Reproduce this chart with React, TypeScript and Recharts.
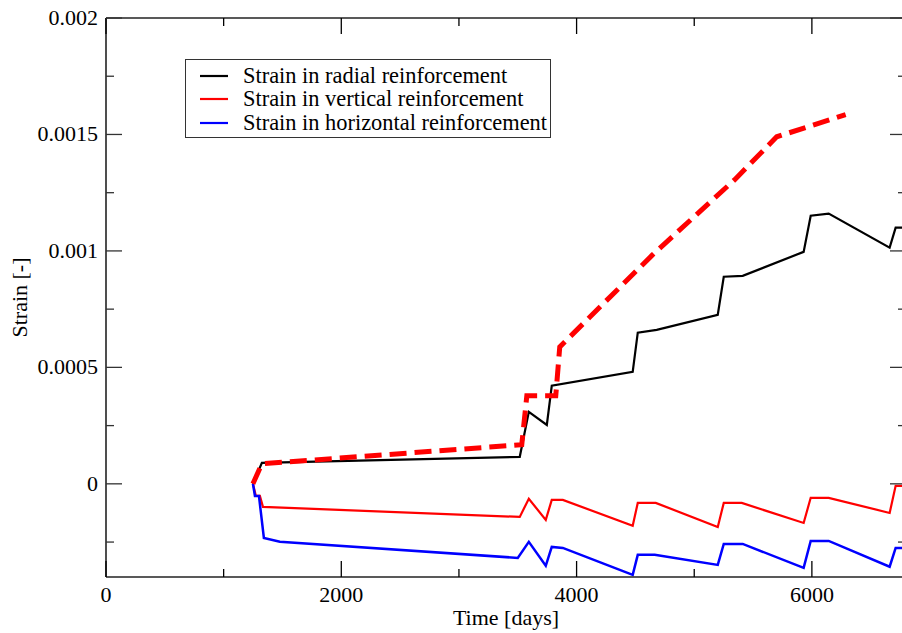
import React from 'react';
import { LineChart, Line, XAxis, YAxis, Legend } from 'recharts';

const FONT = '"Liberation Serif", "Times New Roman", serif';

const seriesNames = ['Strain in radial reinforcement', 'Strain in vertical reinforcement', 'Strain in horizontal reinforcement'];

const radialTime = [1249, 1325, 3517, 3594, 3747, 3789, 4477, 4520, 4681, 5200, 5251, 5412, 5930, 5990, 6143, 6661, 6712, 6790];
const radialStrain = [0, 0.00009, 0.000116, 0.000309, 0.000253, 0.000421, 0.000481, 0.000649, 0.000661, 0.000726, 0.000889, 0.000893, 0.000996, 0.001151, 0.00116, 0.001014, 0.0011, 0.0011];

const verticalTime = [1249, 1274, 1308, 1334, 3517, 3594, 3738, 3789, 3883, 4477, 4520, 4673, 5200, 5251, 5404, 5930, 5990, 6143, 6661, 6712, 6790];
const verticalStrain = [0, -0.000052, -0.000052, -0.000099, -0.000142, -0.000064, -0.000155, -0.000069, -0.000069, -0.00018, -0.000082, -0.000082, -0.000185, -0.000082, -0.000082, -0.000168, -0.00006, -0.00006, -0.000125, -0.0000086, -0.0000086];

const horizontalTime = [1249, 1266, 1300, 1342, 1478, 3500, 3594, 3738, 3789, 3883, 4477, 4520, 4664, 5200, 5251, 5412, 5930, 5990, 6143, 6661, 6712, 6790];
const horizontalStrain = [0, -0.000052, -0.000052, -0.000232, -0.000249, -0.000318, -0.000249, -0.000352, -0.000271, -0.000275, -0.000391, -0.000305, -0.000305, -0.000348, -0.000258, -0.000258, -0.000361, -0.000245, -0.000245, -0.000356, -0.000275, -0.000275];

const dashedTime = [1249, 1325, 3534, 3577, 3823, 3857, 4647, 5344, 5701, 6287];
const dashedStrain = [0, 0.000086, 0.000168, 0.000378, 0.000378, 0.000588, 0.000984, 0.001306, 0.00149, 0.001585];

const xTicks = [0, 1000, 2000, 3000, 4000, 5000, 6000];
const yTicks = [-0.00025, 0, 0.00025, 0.0005, 0.00075, 0.001, 0.00125, 0.0015, 0.00175, 0.002];
const xDomain = [0, 6800];
const yDomain = [-0.0004, 0.002];

const zip = (xs: number[], ys: number[]) => xs.map((t, i) => ({ t, s: ys[i] }));
const radialData = zip(radialTime, radialStrain);
const verticalData = zip(verticalTime, verticalStrain);
const horizontalData = zip(horizontalTime, horizontalStrain);
const dashedData = zip(dashedTime, dashedStrain);

const isMajorX = (v: number) => v % 2000 === 0;
const isMajorY = (v: number) => Math.abs(v * 2000 - Math.round(v * 2000)) < 1e-6;

const MAJOR = 16;
const MINOR = 8;

const BottomTick = (props: any) => {
  const { x, y, payload } = props;
  const major = isMajorX(payload.value);
  return (
    <g>
      <line x1={x} y1={y} x2={x} y2={y - (major ? MAJOR : MINOR)} stroke="#000" strokeWidth={1.3} />
      {major && (
        <text x={x} y={y + 25} textAnchor="middle" fontSize={22} fontFamily={FONT} fill="#000">
          {payload.value}
        </text>
      )}
    </g>
  );
};

const TopTick = (props: any) => {
  const { x, y, payload } = props;
  const major = isMajorX(payload.value);
  return <line x1={x} y1={y} x2={x} y2={y + (major ? MAJOR : MINOR)} stroke="#000" strokeWidth={1.3} />;
};

const LeftTick = (props: any) => {
  const { x, y, payload } = props;
  const major = isMajorY(payload.value);
  return (
    <g>
      <line x1={x} y1={y} x2={x + (major ? MAJOR : MINOR)} y2={y} stroke="#333" strokeWidth={1.3} />
      {major && (
        <text x={x - 8} y={y + 7} textAnchor="end" fontSize={22} fontFamily={FONT} fill="#000">
          {String(payload.value)}
        </text>
      )}
    </g>
  );
};

const RightTick = (props: any) => {
  const { x, y, payload } = props;
  const major = isMajorY(payload.value);
  return <line x1={x} y1={y} x2={x - (major ? MAJOR : MINOR)} y2={y} stroke="#333" strokeWidth={1.3} />;
};

const LegendBox = (props: any) => {
  const raw = (props.payload || []).filter((p: any) => p.type !== 'none');
  const items = seriesNames
    .map((n) => raw.find((p: any) => p.value === n))
    .filter(Boolean);
  return (
    <div
      style={{
        boxSizing: 'border-box',
        width: 366,
        height: 79,
        border: '1.5px solid #333',
        background: '#fff',
        paddingTop: 4,
        paddingLeft: 14,
        fontFamily: FONT,
      }}
    >
      {items.map((it: any) => (
        <div key={it.value} style={{ display: 'flex', alignItems: 'center', height: 23.5 }}>
          <svg width={28} height={4} style={{ marginRight: 15 }}>
            <line x1={0} y1={2} x2={28} y2={2} stroke={it.color} strokeWidth={2.2} />
          </svg>
          <span style={{ fontSize: 22.4, lineHeight: 1, color: '#000', whiteSpace: 'nowrap' }}>{it.value}</span>
        </div>
      ))}
    </div>
  );
};

export default function App() {
  return (
    <div style={{ position: 'absolute', left: 0, top: 0, width: 902, height: 633, overflow: 'hidden', background: '#fff' }}>
      <LineChart width={920} height={633} margin={{ top: 0, right: 0, bottom: 0, left: 0 }}>
        <XAxis
          xAxisId="b"
          type="number"
          dataKey="t"
          orientation="bottom"
          domain={xDomain}
          ticks={xTicks}
          interval={0}
          allowDataOverflow
          height={56}
          tickSize={0}
          tickMargin={0}
          tick={<BottomTick />}
          axisLine={{ stroke: '#222', strokeWidth: 1.6 }}
          label={(p: any) => {
            const vb = p.viewBox || {};
            return (
              <text x={vb.x + vb.width / 2} y={625} textAnchor="middle" fontSize={22} fontFamily={FONT} fill="#000">
                Time [days]
              </text>
            );
          }}
        />
        <XAxis
          xAxisId="t"
          type="number"
          dataKey="t"
          orientation="top"
          domain={xDomain}
          ticks={xTicks}
          interval={0}
          allowDataOverflow
          height={18}
          tickSize={0}
          tickMargin={0}
          tick={<TopTick />}
          axisLine={{ stroke: '#222', strokeWidth: 1.6 }}
        />
        <YAxis
          yAxisId="l"
          type="number"
          orientation="left"
          domain={yDomain}
          ticks={yTicks}
          interval={0}
          allowDataOverflow
          width={106}
          tickSize={0}
          tickMargin={0}
          tick={<LeftTick />}
          axisLine={{ stroke: '#222', strokeWidth: 1.6 }}
          label={(p: any) => {
            const vb = p.viewBox || {};
            const cy = vb.y + vb.height / 2;
            return (
              <text x={27} y={cy} transform={`rotate(-90 27 ${cy})`} textAnchor="middle" fontSize={22} fontFamily={FONT} fill="#000">
                Strain [-]
              </text>
            );
          }}
        />
        <YAxis
          yAxisId="r"
          type="number"
          orientation="right"
          domain={yDomain}
          ticks={yTicks}
          interval={0}
          allowDataOverflow
          width={14}
          tickSize={0}
          tickMargin={0}
          tick={<RightTick />}
          axisLine={{ stroke: '#222', strokeWidth: 1.6 }}
        />
        <Legend
          layout="vertical"
          align="center"
          verticalAlign="middle"
          wrapperStyle={{ left: 185, top: 59, width: 366, height: 79 }}
          content={<LegendBox />}
        />
        <Line
          xAxisId="b"
          yAxisId="l"
          data={radialData}
          dataKey="s"
          name={seriesNames[0]}
          stroke="#000000"
          strokeWidth={2.2}
          dot={false}
          isAnimationActive={false}
          type="linear"
        />
        <Line
          xAxisId="b"
          yAxisId="l"
          data={verticalData}
          dataKey="s"
          name={seriesNames[1]}
          stroke="#ff0000"
          strokeWidth={2.2}
          dot={false}
          isAnimationActive={false}
          type="linear"
        />
        <Line
          xAxisId="b"
          yAxisId="l"
          data={horizontalData}
          dataKey="s"
          name={seriesNames[2]}
          stroke="#0000ff"
          strokeWidth={2.5}
          dot={false}
          isAnimationActive={false}
          type="linear"
        />
        <Line
          xAxisId="b"
          yAxisId="l"
          data={dashedData}
          dataKey="s"
          name="Dashed vertical"
          legendType="none"
          stroke="#ff0000"
          strokeWidth={5}
          strokeDasharray="17 8"
          dot={false}
          isAnimationActive={false}
          type="linear"
        />
      </LineChart>
    </div>
  );
}
